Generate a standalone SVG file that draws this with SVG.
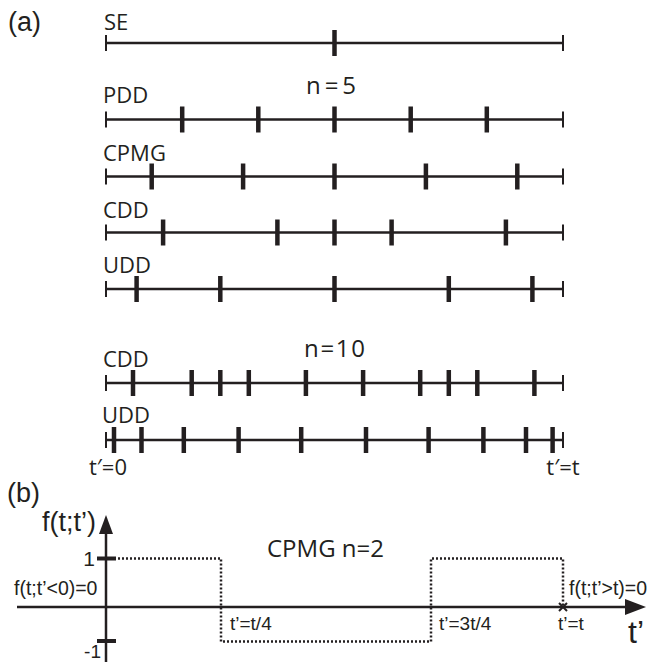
<svg xmlns="http://www.w3.org/2000/svg" xmlns:xlink="http://www.w3.org/1999/xlink" width="651" height="662" viewBox="0 0 651 662">
<style>
.bg{fill:#ffffff}
.base{stroke:#231f20;stroke-width:2.5;fill:none}
.lab{font-family:"Open Sans","Noto Sans",sans-serif;font-size:22px;fill:#231f20}
.big{font-size:24px}
.hel{font-family:"Liberation Sans",Arial,sans-serif;fill:#231f20}
.dot{stroke:#231f20;stroke-width:2.5;fill:none;stroke-dasharray:2 2}
</style>
<defs>
<line id="pulse" x1="0" y1="-13" x2="0" y2="13" stroke="#231f20" stroke-width="4.5"/>
<line id="endt" x1="0" y1="-8" x2="0" y2="8" stroke="#231f20" stroke-width="2"/>
<g id="axisline">
<line class="base" x1="106" y1="0" x2="563" y2="0"/>
<use href="#endt" x="106" y="0"/>
<use href="#endt" x="563" y="0"/>
</g>
</defs>
<rect class="bg" x="0" y="0" width="651" height="662"/>

<text class="hel" x="8" y="31" font-size="27">(a)</text>

<g id="se">
<text class="lab" x="104" y="30">SE</text>
<use href="#axisline" y="43"/>
<use href="#pulse" x="334.5" y="43"/>
</g>

<text class="lab big" x="306" y="94" textLength="50" lengthAdjust="spacing">n=5</text>

<g id="pdd5">
<text class="lab" x="103" y="103">PDD</text>
<use href="#axisline" y="119.5"/>
<use href="#pulse" x="182.2" y="119.5"/>
<use href="#pulse" x="258.3" y="119.5"/>
<use href="#pulse" x="334.5" y="119.5"/>
<use href="#pulse" x="410.7" y="119.5"/>
<use href="#pulse" x="486.8" y="119.5"/>
</g>

<g id="cpmg5">
<text class="lab" x="103" y="161">CPMG</text>
<use href="#axisline" y="176.5"/>
<use href="#pulse" x="151.7" y="176.5"/>
<use href="#pulse" x="243.1" y="176.5"/>
<use href="#pulse" x="334.5" y="176.5"/>
<use href="#pulse" x="425.9" y="176.5"/>
<use href="#pulse" x="517.3" y="176.5"/>
</g>

<g id="cdd5">
<text class="lab" x="103" y="218">CDD</text>
<use href="#axisline" y="232.5"/>
<use href="#pulse" x="163.1" y="232.5"/>
<use href="#pulse" x="277.4" y="232.5"/>
<use href="#pulse" x="334.5" y="232.5"/>
<use href="#pulse" x="391.6" y="232.5"/>
<use href="#pulse" x="505.9" y="232.5"/>
</g>

<g id="udd5">
<text class="lab" x="103" y="273">UDD</text>
<use href="#axisline" y="289"/>
<use href="#pulse" x="136.6" y="289"/>
<use href="#pulse" x="220.3" y="289"/>
<use href="#pulse" x="334.5" y="289"/>
<use href="#pulse" x="448.8" y="289"/>
<use href="#pulse" x="532.4" y="289"/>
</g>

<text class="lab big" x="304" y="357" textLength="61" lengthAdjust="spacing">n=10</text>

<g id="cdd10">
<text class="lab" x="103" y="367">CDD</text>
<use href="#axisline" y="383"/>
<use href="#pulse" x="133" y="383"/>
<use href="#pulse" x="191.7" y="383"/>
<use href="#pulse" x="220.3" y="383"/>
<use href="#pulse" x="248.8" y="383"/>
<use href="#pulse" x="305.9" y="383"/>
<use href="#pulse" x="363.1" y="383"/>
<use href="#pulse" x="420.2" y="383"/>
<use href="#pulse" x="448.8" y="383"/>
<use href="#pulse" x="477.3" y="383"/>
<use href="#pulse" x="534.4" y="383"/>
</g>

<g id="udd10">
<text class="lab" x="102" y="423">UDD</text>
<use href="#axisline" y="440"/>
<use href="#pulse" x="114" y="440"/>
<use href="#pulse" x="141.5" y="440"/>
<use href="#pulse" x="183.8" y="440"/>
<use href="#pulse" x="238.6" y="440"/>
<use href="#pulse" x="301.2" y="440"/>
<use href="#pulse" x="366" y="440"/>
<use href="#pulse" x="428.6" y="440"/>
<use href="#pulse" x="483.4" y="440"/>
<use href="#pulse" x="526" y="440"/>
<use href="#pulse" x="552.6" y="440"/>
</g>

<text class="lab" x="108" y="475" text-anchor="middle">t′=0</text>
<text class="lab" x="563" y="475" text-anchor="middle">t′=t</text>

<text class="hel" x="7" y="502" font-size="27">(b)</text>

<g id="plot">
<g id="axes">
<line class="base" x1="106" y1="662" x2="106" y2="530"/>
<polygon points="106,515 99,534 113,534" fill="#231f20"/>
<line class="base" x1="17" y1="607" x2="628" y2="607"/>
<polygon points="646,607 625,599 625,615" fill="#231f20"/>
<line x1="97" y1="558.5" x2="116" y2="558.5" stroke="#231f20" stroke-width="4"/>
<line x1="97" y1="641" x2="116" y2="641" stroke="#231f20" stroke-width="4"/>
</g>
<path id="fcurve" class="dot" d="M118 558.5 H221 V641.5 H431 V558.5 H563 V605"/>
<path d="M559 603 L567 611 M567 603 L559 611" stroke="#231f20" stroke-width="2"/>
<text class="hel" x="42" y="531" font-size="27">f(t;t’)</text>
<text class="hel" x="95" y="566" font-size="21" text-anchor="end">1</text>
<text class="hel" x="101" y="658" font-size="19" text-anchor="end">-1</text>
<text class="hel" x="14" y="595" font-size="19.5">f(t;t’&lt;0)=0</text>
<text class="hel" x="569" y="595" font-size="19.5">f(t;t’&gt;t)=0</text>
<text class="hel" x="230" y="630" font-size="19">t’=t/4</text>
<text class="hel" x="439" y="630" font-size="19">t’=3t/4</text>
<text class="hel" x="558" y="630" font-size="19">t’=t</text>
<text class="hel" x="628" y="643" font-size="32">t’</text>
<text class="lab big" x="267" y="557">CPMG n=2</text>
</g>
</svg>
